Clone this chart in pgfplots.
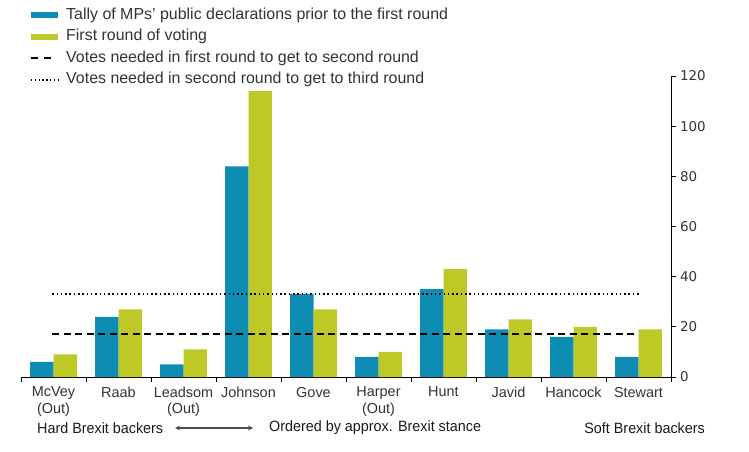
\documentclass[border=0pt]{standalone}
\usepackage{fontspec}
\setmainfont{Liberation Sans}
\newfontfamily\narrow[FakeStretch=0.96]{Liberation Sans}
\newfontfamily\numfont{DejaVu Sans}
\usepackage{pgfplots}
\pgfplotsset{compat=1.18}
\definecolor{tallyblue}{RGB}{14,140,180}
\definecolor{votegreen}{RGB}{190,201,40}
\begin{document}
\begin{tikzpicture}
\path[use as bounding box] (-21bp,-75bp) rectangle (728bp,377bp);
\begin{axis}[
  at={(0,0)}, anchor=south west,
  scale only axis, width=650bp, height=301bp,
  xmin=-0.5, xmax=9.5, ymin=0, ymax=120,
  axis x line=bottom, axis y line=right,
  axis line style={-, black, line width=0.8bp},
  xtick={0,...,9},
  xticklabels={{McVey\\(Out)},Raab,{Leadsom\\(Out)},Johnson,Gove,{Harper\\(Out)},Hunt,Javid,Hancock,Stewart},
  xticklabel style={align=center, font=\fontsize{14.5}{16.5}\selectfont, text=black!80, yshift=-2bp},
  major x tick style={draw=none},
  minor xtick={-0.5,0.5,...,9.5},
  minor x tick style={black, line width=0.8bp},
  minor tick length=4.5bp,
  ytick={0,20,...,120},
  yticklabel style={font=\numfont\fontsize{13.5}{16}\selectfont, text=black!80, xshift=1bp},
  major y tick style={black, line width=0.8bp},
  major tick length=4.5bp,
  tick align=outside,
  /pgf/number format/assume math mode=true,
  ybar, bar width=0.36,
  legend style={at={(rel axis cs:0.0138,1.233)}, anchor=north west, draw=none, fill=none,
    inner sep=0pt, outer sep=0pt, column sep=6bp,
    font=\fontsize{16}{18}\selectfont, text=black!80, row sep=2.5bp,
    nodes={inner sep=1.5bp, text height=12bp, text depth=4bp}},
  legend cell align=left,
  clip=false,
]
\addplot[fill=tallyblue, draw=none, bar shift=-0.18,
  legend image code/.code={\fill[tallyblue] (0bp,-3bp) rectangle (27bp,3bp);}]
  coordinates {(0,6)(1,24)(2,5)(3,84)(4,33)(5,8)(6,35)(7,19)(8,16)(9,8)};
\addlegendentry{Tally of MPs' public declarations prior to the first round}
\addplot[fill=votegreen, draw=none, bar shift=0.18,
  legend image code/.code={\fill[votegreen] (0bp,-3bp) rectangle (27bp,3bp);}]
  coordinates {(0,9)(1,27)(2,11)(3,114)(4,27)(5,10)(6,43)(7,23)(8,20)(9,19)};
\addlegendentry{First round of voting}
\addplot[sharp plot, black, line width=1.8bp, dash pattern=on 7bp off 4.5bp,
  legend image code/.code={\draw[black, line width=2bp, dash pattern=on 7bp off 6bp] (0bp,0bp) -- (20bp,0bp);}]
  coordinates {(-0.02,17)(8.95,17)};
\addlegendentry{Votes needed in first round to get to second round}
\addplot[sharp plot, black, line width=1.5bp, dash pattern=on 1.5bp off 2.8bp,
  legend image code/.code={\draw[black, line width=1.5bp, dash pattern=on 1.5bp off 2.3bp] (0bp,0bp) -- (27bp,0bp);}]
  coordinates {(-0.02,33)(9.0,33)};
\addlegendentry{Votes needed in second round to get to third round}
\end{axis}
\node[anchor=west, inner sep=0pt, font=\narrow\fontsize{15}{17}\selectfont, text=black!90] at (16bp,-51bp) {Hard Brexit backers};
\draw[<->, >=stealth, line width=1.2bp, black!70] (154bp,-51bp) -- (232bp,-51bp);
\node[anchor=west, inner sep=0pt, font=\narrow\fontsize{15}{17}\selectfont, text=black!90] at (248bp,-51bp) {Ordered by approx. Brexit stance};
\node[anchor=east, inner sep=0pt, font=\narrow\fontsize{15}{17}\selectfont, text=black!90] at (684bp,-51bp) {Soft Brexit backers};
\end{tikzpicture}
\end{document}
